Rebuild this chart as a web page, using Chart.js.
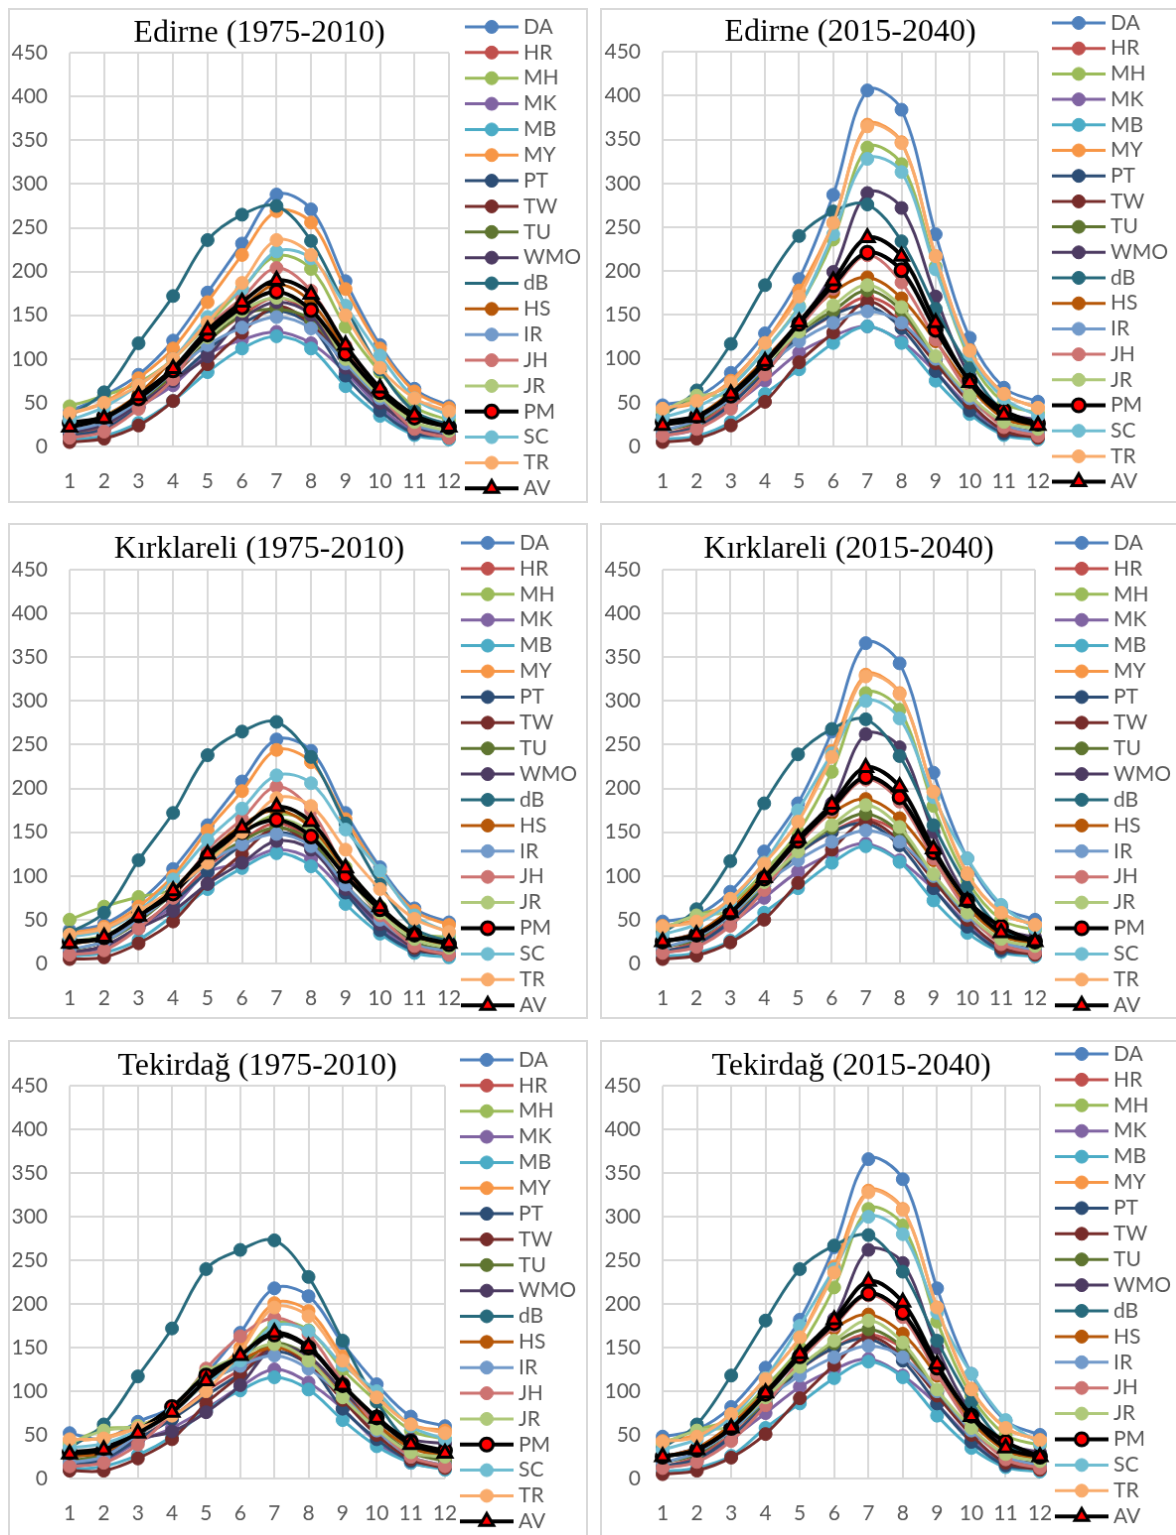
<!DOCTYPE html>
<html>
<head>
<meta charset="utf-8">
<script src="https://cdn.jsdelivr.net/npm/chart.js@4.4.1/dist/chart.umd.min.js"></script>
<style>
  html, body { margin: 0; padding: 0; background: #fff; overflow: hidden; width: 1176px; height: 1535px; }
  canvas { position: absolute; border: 2px solid #d9d9d9; }
</style>
</head>
<body>
<canvas id="c1" width="580" height="495" style="left:8px;top:8px"></canvas>
<canvas id="c2" width="580" height="495" style="left:600px;top:8px"></canvas>
<canvas id="c3" width="580" height="496" style="left:8px;top:523px"></canvas>
<canvas id="c4" width="580" height="496" style="left:600px;top:523px"></canvas>
<canvas id="c5" width="580" height="500" style="left:8px;top:1040px"></canvas>
<canvas id="c6" width="580" height="500" style="left:600px;top:1040px"></canvas>
<script>
// Monthly values per method, six panels (3 provinces x 2 periods).
const months = ['1','2','3','4','5','6','7','8','9','10','11','12'];
const seriesNames = ['DA','HR','MH','MK','MB','MY','PT','TW','TU','WMO','dB','HS','IR','JH','JR','PM','SC','TR','AV'];

// rows follow seriesNames order
const edirnePast = [
  [40,58,82,121,176,232,288,271,189,116,66,46],
  [12,22,45,80,120,150,170,150,95,50,22,12],
  [46,58,73,100,140,180,218,203,137,85,45,30],
  [12,20,45,70,105,122,131,118,85,45,18,12],
  [8,12,27,52,85,112,126,112,69,35,13,8],
  [37,50,78,112,165,219,269,256,180,112,63,44],
  [12,20,45,75,110,140,155,138,81,41,15,12],
  [5,9,24,52,94,130,160,140,95,52,20,10],
  [15,25,50,82,120,150,157,145,95,55,25,15],
  [15,25,48,75,103,145,165,150,90,50,22,15],
  [35,62,118,172,236,265,275,235,160,88,40,25],
  [25,35,60,100,140,160,185,165,110,62,32,22],
  [18,28,52,85,116,136,148,135,95,55,25,15],
  [10,17,43,77,135,170,204,178,115,60,20,10],
  [25,35,55,88,125,155,170,155,100,58,28,18],
  [27,34,55,87,128,159,177,156,106,62,33,22],
  [30,45,70,100,148,180,223,215,161,104,55,35],
  [38,50,70,100,142,187,236,219,150,90,55,40],
  [22,32,58,89,133,165,190,174,116,67,36,22]
];
const edirneFuture = [
  [47,56,84,129,191,287,406,384,242,124,67,51],
  [13,25,50,85,125,150,170,150,100,55,25,13],
  [42,55,70,110,160,236,341,322,205,100,50,38],
  [12,20,45,75,107,126,137,120,85,45,18,12],
  [8,12,28,60,88,118,137,118,75,37,13,8],
  [43,50,75,118,178,255,367,347,217,110,60,44],
  [14,22,48,85,125,150,160,135,86,41,15,12],
  [5,9,24,51,96,130,165,140,95,50,18,10],
  [18,28,55,88,130,155,178,155,100,55,25,16],
  [25,35,58,95,140,199,289,272,171,80,40,30],
  [35,64,117,184,240,268,276,234,157,89,40,27],
  [25,35,62,100,140,176,193,169,120,68,32,22],
  [18,30,55,90,120,141,154,141,100,55,25,15],
  [12,20,43,82,135,180,218,187,122,60,22,12],
  [40,58,60,95,131,161,184,159,103,58,28,20],
  [28,35,58,95,140,184,221,201,133,75,41,26],
  [33,45,68,110,159,242,328,313,202,105,55,35],
  [43,52,73,118,171,255,365,346,217,109,60,44],
  [24,33,60,97,142,189,238,217,141,73,36,24]
];
const kirklareliPast = [
  [38,45,70,108,158,208,256,243,172,110,63,47],
  [12,20,42,72,110,140,160,140,90,48,20,12],
  [50,65,76,85,118,148,170,160,110,65,35,30],
  [10,18,42,65,104,115,130,119,80,42,16,10],
  [8,12,27,55,85,109,126,111,68,34,12,7],
  [35,42,65,100,152,197,244,230,165,105,60,44],
  [12,20,42,70,105,135,150,135,81,38,15,12],
  [5,7,23,48,91,125,155,135,90,48,18,10],
  [15,25,48,80,115,140,155,140,90,52,24,15],
  [12,20,40,60,91,115,140,130,85,45,20,14],
  [35,58,118,172,238,265,276,236,160,90,40,25],
  [22,30,55,85,125,158,175,155,105,62,30,20],
  [16,25,50,80,115,136,148,134,90,50,22,14],
  [10,15,40,75,130,165,202,175,105,55,20,10],
  [25,32,55,85,120,150,165,150,100,58,28,18],
  [25,30,55,80,122,150,164,145,100,62,33,22],
  [30,38,60,96,141,177,215,206,153,106,55,35],
  [33,40,60,85,115,150,189,180,130,85,51,36],
  [23,30,54,83,125,155,179,162,109,65,33,23]
];
const kirklareliFuture = [
  [48,55,82,128,183,265,366,343,218,120,65,50],
  [13,25,50,85,125,150,165,148,98,55,25,13],
  [40,55,68,105,150,219,309,290,180,95,50,38],
  [12,20,45,75,105,125,137,118,85,45,18,12],
  [8,12,26,58,86,115,134,116,72,35,13,8],
  [43,50,73,115,162,243,330,309,196,103,58,44],
  [14,22,48,85,125,150,160,135,86,42,15,12],
  [5,9,24,50,92,130,162,140,95,50,18,10],
  [18,28,55,88,128,155,171,150,100,55,25,16],
  [25,35,58,95,140,183,262,247,150,75,40,30],
  [35,62,117,183,239,268,279,237,158,88,40,25],
  [25,35,62,100,140,172,188,166,118,65,32,22],
  [18,30,55,90,118,139,152,139,100,55,25,15],
  [12,19,43,84,135,175,210,185,120,60,22,12],
  [40,55,60,93,128,158,181,156,102,58,28,20],
  [25,33,58,97,140,178,213,190,127,72,42,25],
  [33,45,70,115,175,240,300,280,190,120,67,40],
  [42,48,74,114,162,236,328,308,196,102,58,44],
  [25,33,58,98,143,182,224,202,131,71,35,25]
];
const tekirdagPast = [
  [52,45,65,82,120,167,218,209,155,108,71,60],
  [15,22,45,70,100,125,150,135,90,55,25,15],
  [40,57,60,80,122,140,178,170,125,88,55,45],
  [13,20,42,58,80,105,125,110,80,42,18,12],
  [10,14,27,48,78,101,116,102,67,37,18,10],
  [43,47,60,78,110,150,201,192,140,95,62,55],
  [15,22,45,68,95,120,145,130,80,45,20,15],
  [9,9,23,45,86,118,150,130,90,50,22,12],
  [20,28,50,75,110,130,155,140,100,60,30,20],
  [25,30,45,54,76,107,150,140,100,65,45,40],
  [35,62,117,172,240,262,273,231,158,88,40,25],
  [25,30,52,75,110,135,150,135,95,62,35,25],
  [18,25,50,75,110,129,141,126,95,55,25,15],
  [14,18,39,75,126,163,184,165,110,60,25,14],
  [40,55,60,80,122,140,154,135,93,57,30,25],
  [30,35,55,82,118,140,165,150,107,70,42,32],
  [35,40,55,75,110,135,175,169,130,100,60,45],
  [45,46,58,72,100,145,196,186,135,93,62,52],
  [28,33,52,76,112,141,167,151,107,69,39,29]
];
const tekirdagFuture = [
  [48,56,82,127,182,265,366,343,218,120,66,50],
  [13,25,50,85,125,150,165,148,98,55,25,13],
  [40,56,68,105,150,219,309,290,180,95,50,38],
  [12,20,45,75,105,125,137,118,85,45,18,12],
  [8,12,26,58,86,115,134,116,72,35,13,8],
  [43,50,73,115,162,243,330,309,196,103,58,44],
  [14,22,48,85,125,150,160,135,86,42,15,12],
  [5,9,24,51,92,130,162,140,95,50,18,10],
  [18,28,55,88,128,155,171,150,100,55,25,16],
  [25,35,58,95,140,183,262,247,150,75,40,30],
  [35,62,118,181,240,267,279,237,158,88,40,25],
  [25,35,62,100,140,172,188,166,118,65,32,22],
  [18,30,55,90,118,139,152,139,100,55,25,15],
  [12,19,43,84,135,175,210,185,120,60,22,12],
  [40,55,60,93,128,158,181,156,102,58,28,20],
  [25,33,58,97,140,178,212,190,127,72,42,25],
  [33,45,70,115,175,240,300,280,190,120,67,40],
  [42,48,74,114,162,236,328,308,196,102,58,44],
  [25,33,58,98,143,182,226,202,131,71,35,25]
];

// Excel 2010 palette order, PM and AV drawn in black with red markers
const seriesColors = ['#4F81BD','#C0504D','#9BBB59','#8064A2','#4BACC6','#F79646','#2C4D75','#772C2A','#5F7530',
  '#4D3B62','#276A7C','#B65708','#729ACA','#CD7371','#AFC97A','#000000','#6FBDD1','#F9AB6B','#000000'];

const labelFont = 'Lato';
const gray = '#595959';

function makeDatasets(rows) {
  return seriesNames.map((name, i) => {
    const c = seriesColors[i];
    const ds = {
      label: name, data: rows[i],
      borderColor: c, backgroundColor: c, borderWidth: 3,
      pointRadius: 6.5, pointBorderWidth: 1, pointBorderColor: c, pointBackgroundColor: c,
      tension: 0.35, clip: false, order: seriesNames.length - 1 - i
    };
    if (name === 'PM' || name === 'AV') {
      ds.borderWidth = 4;
      ds.pointBackgroundColor = '#ff0000';
      ds.pointBorderColor = '#000000';
      ds.pointBorderWidth = 3;
      ds.pointRadius = name === 'PM' ? 6.5 : 8;
      if (name === 'AV') ds.pointStyle = 'triangle';
    }
    return ds;
  });
}

function drawMarker(ctx, ds, x, y) {
  ctx.fillStyle = ds.pointBackgroundColor;
  ctx.strokeStyle = ds.pointBorderColor;
  ctx.lineWidth = ds.pointBorderWidth;
  const r = ds.pointRadius;
  ctx.beginPath();
  if (ds.pointStyle === 'triangle') {
    let a = 0;
    ctx.moveTo(x + Math.sin(a) * r, y - Math.cos(a) * r);
    a += Math.PI * 2 / 3;
    ctx.lineTo(x + Math.sin(a) * r, y - Math.cos(a) * r);
    a += Math.PI * 2 / 3;
    ctx.lineTo(x + Math.sin(a) * r, y - Math.cos(a) * r);
    ctx.closePath();
  } else {
    ctx.arc(x, y, r, 0, Math.PI * 2);
  }
  ctx.fill();
  ctx.stroke();
}

// legend column on the right, one row per series
const sideLegend = {
  id: 'sideLegend',
  afterDraw(chart, args, o) {
    const ctx = chart.ctx;
    ctx.save();
    chart.data.datasets.forEach((ds, i) => {
      const y = o.top + i * o.step;
      ctx.strokeStyle = ds.borderColor;
      ctx.lineWidth = ds.borderWidth;
      ctx.beginPath();
      ctx.moveTo(o.x - 27, y);
      ctx.lineTo(o.x + 27, y);
      ctx.stroke();
      drawMarker(ctx, ds, o.x, y);
      ctx.fillStyle = gray;
      ctx.font = '21px ' + labelFont;
      ctx.textBaseline = 'middle';
      ctx.textAlign = 'left';
      ctx.fillText(ds.label, o.textX, y);
    });
    ctx.restore();
  }
};

const panels = [
  { id: 'c1', title: 'Edirne (1975-2010)', rows: edirnePast,
    g: { left: 60, right: 442, top: 40, bottom: 440, tc: 24, lx: 485, tx: 517, lt: 17, ls: 25.85 } },
  { id: 'c2', title: 'Edirne (2015-2040)', rows: edirneFuture,
    g: { left: 61, right: 439, top: 40, bottom: 440, tc: 23, lx: 480, tx: 512, lt: 13, ls: 25.7 } },
  { id: 'c3', title: 'Kırklareli (1975-2010)', rows: kirklareliPast,
    g: { left: 60, right: 442, top: 45, bottom: 442, tc: 25, lx: 481, tx: 513, lt: 18, ls: 25.9 } },
  { id: 'c4', title: 'Kırklareli (2015-2040)', rows: kirklareliFuture,
    g: { left: 61, right: 436, top: 45, bottom: 442, tc: 25, lx: 483, tx: 515, lt: 18, ls: 25.9 } },
  { id: 'c5', title: 'Tekirdağ (1975-2010)', rows: tekirdagPast,
    g: { left: 60, right: 438, top: 44, bottom: 440, tc: 25, lx: 480, tx: 512, lt: 18, ls: 25.85 } },
  { id: 'c6', title: 'Tekirdağ (2015-2040)', rows: tekirdagFuture,
    g: { left: 61, right: 441, top: 44, bottom: 440, tc: 25, lx: 483, tx: 515, lt: 12, ls: 25.9 } }
];

panels.forEach(p => {
  const cv = document.getElementById(p.id);
  const g = p.g;
  const titleSize = 32;
  const titleLine = titleSize * 1.2;
  const tTop = g.tc - titleLine / 2;
  const tBottom = Math.max(0, g.top - tTop - titleLine);
  new Chart(cv.getContext('2d'), {
    type: 'line',
    data: { labels: months, datasets: makeDatasets(p.rows) },
    plugins: [sideLegend],
    options: {
      responsive: false,
      animation: false,
      layout: { padding: { left: 0, top: 0, bottom: 0, right: cv.width - g.right } },
      plugins: {
        legend: { display: false },
        tooltip: { enabled: false },
        title: {
          display: true, text: p.title, fullSize: false, color: '#000000',
          font: { family: 'Liberation Serif', size: titleSize, weight: 'normal', lineHeight: 1.2 },
          padding: { top: tTop, bottom: tBottom }
        },
        sideLegend: { x: g.lx, textX: g.tx, top: g.lt, step: g.ls }
      },
      scales: {
        x: {
          offset: false,
          grid: { color: '#d9d9d9', lineWidth: 2, drawTicks: false },
          border: { display: false },
          ticks: { color: gray, font: { family: labelFont, size: 21 }, padding: 23, maxRotation: 0, autoSkip: false },
          afterFit: s => { s.height = cv.height - g.bottom; }
        },
        y: {
          min: 0, max: 450,
          grid: { color: '#d9d9d9', lineWidth: 2, drawTicks: false },
          border: { display: false },
          ticks: { stepSize: 50, color: gray, font: { family: labelFont, size: 21 }, padding: 22 },
          afterFit: s => { s.width = g.left; }
        }
      }
    }
  });
});
</script>
</body>
</html>
